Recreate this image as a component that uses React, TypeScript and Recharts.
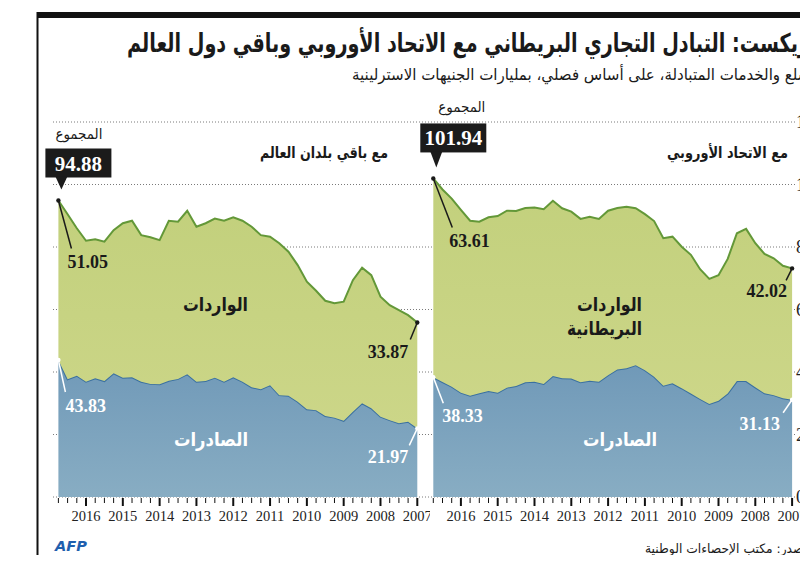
import React from "react";
import { AreaChart, Area, XAxis, YAxis, CartesianGrid, ReferenceDot } from "recharts";

// Quarters, from the latest (left edge) to the earliest (right edge)
const quarters = [
  "2016 Q4", "2016 Q3", "2016 Q2", "2016 Q1",
  "2015 Q4", "2015 Q3", "2015 Q2", "2015 Q1",
  "2014 Q4", "2014 Q3", "2014 Q2", "2014 Q1",
  "2013 Q4", "2013 Q3", "2013 Q2", "2013 Q1",
  "2012 Q4", "2012 Q3", "2012 Q2", "2012 Q1",
  "2011 Q4", "2011 Q3", "2011 Q2", "2011 Q1",
  "2010 Q4", "2010 Q3", "2010 Q2", "2010 Q1",
  "2009 Q4", "2009 Q3", "2009 Q2", "2009 Q1",
  "2008 Q4", "2008 Q3", "2008 Q2", "2008 Q1",
  "2007 Q4", "2007 Q3", "2007 Q2", "2007 Q1",
];

// Rest of the world (left panel), billions of pounds
const worldExports = [
  43.83, 37.7, 38.8, 36.9, 38.0, 37.1, 39.6, 38.2, 38.3, 36.9,
  36.2, 36.1, 37.2, 37.8, 39.3, 36.9, 37.1, 38.2, 36.9, 38.3,
  36.9, 35.1, 34.5, 35.8, 32.6, 32.4, 30.5, 28.1, 27.8, 25.9,
  25.4, 24.4, 27.3, 30.0, 28.4, 25.7, 24.6, 23.6, 24.1, 21.97,
];
const worldImports = [
  51.05, 52.8, 47.2, 45.1, 44.5, 44.6, 45.8, 49.4, 50.1, 46.9,
  46.9, 46.1, 51.2, 50.3, 52.3, 49.6, 50.5, 50.9, 51.5, 51.2,
  51.5, 51.4, 49.3, 47.5, 48.6, 46.1, 43.7, 40.8, 38.2, 36.9,
  36.6, 38.1, 42.1, 43.4, 42.6, 38.4, 36.8, 36.2, 34.1, 33.87,
];

// European Union (right panel), billions of pounds
const euExports = [
  38.33, 36.8, 35.3, 33.4, 32.4, 33.2, 33.9, 33.4, 35.0, 35.5,
  36.7, 36.9, 36.2, 38.7, 38.0, 37.9, 36.7, 37.2, 36.9, 39.0,
  40.8, 41.2, 42.2, 40.6, 38.5, 35.6, 36.4, 34.8, 33.1, 31.4,
  29.8, 30.8, 33.1, 37.1, 37.1, 35.1, 33.2, 32.6, 31.6, 31.13,
];
const euImports = [
  63.61, 61.6, 60.2, 58.5, 56.0, 54.9, 55.6, 56.5, 56.6, 56.0,
  55.8, 55.7, 55.9, 56.1, 54.4, 53.4, 52.3, 52.5, 52.1, 52.6,
  51.7, 51.7, 50.2, 49.9, 49.8, 47.2, 46.9, 45.3, 44.4, 41.5,
  40.0, 40.2, 43.1, 47.3, 48.7, 46.1, 44.6, 43.8, 42.4, 42.02,
];

const yTicks = [0, 20, 40, 60, 80, 100, 120];

const FONT_AR = "'DejaVu Sans', sans-serif";
const FONT_NUM = "'Liberation Serif', 'Times New Roman', serif";
const INK = "#1a1a1a";

const XTick = (p: any) => {
  const { x, y, payload } = p;
  const label: string = String(payload.value);
  const major = label.endsWith("Q1");
  return (
    <g>
      <line x1={x} y1={y + 1} x2={x} y2={y + (major ? 9 : 6)} stroke="#111" strokeWidth={major ? 2 : 1} />
      {major && (
        <text x={x} y={y + 24} textAnchor="middle" fontFamily={FONT_NUM} fontSize={14.5} fill="#222">
          {label.slice(0, 4)}
        </text>
      )}
    </g>
  );
};

const YTick = (p: any) => {
  const { x, y, payload } = p;
  return (
    <text x={x - 1} y={y + 6} textAnchor="start" fontFamily={FONT_NUM} fontSize={18} fill="#222">
      {payload.value}
    </text>
  );
};

type Off = { lx: number; ly: number; tx: number; ty: number };
type Ann = {
  boxDy: number;
  sumDx: number;
  sumDy: number;
  startImp: Off;
  endTotal: Off;
  startExp: Off;
  endExp: Off;
};

const worldAnn: Ann = {
  boxDy: -52,
  sumDx: 44,
  sumDy: -62,
  startImp: { lx: 13, ly: 48, tx: 9, ty: 67 },
  endTotal: { lx: -7, ly: 17, tx: -9, ty: 35 },
  startExp: { lx: 7, ly: 32, tx: 7, ty: 52 },
  endExp: { lx: -8, ly: 17, tx: -9, ty: 35 },
};
const euAnn: Ann = {
  boxDy: -55,
  sumDx: 52,
  sumDy: -66,
  startImp: { lx: 19, ly: 49, tx: 16, ty: 69 },
  endTotal: { lx: -6, ly: 12, tx: -5, ty: 29 },
  startExp: { lx: 10, ly: 26, tx: 9, ty: 45 },
  endExp: { lx: -9, ly: 13, tx: -12, ty: 30 },
};

const leader = (color: string, text: string, o: Off, anchor: "start" | "end") => (p: any) => {
  const { cx, cy } = p;
  return (
    <g>
      <line x1={cx} y1={cy} x2={cx + o.lx} y2={cy + o.ly} stroke={color} strokeWidth={1.5} />
      <circle cx={cx} cy={cy} r={2.2} fill={color} />
      <text x={cx + o.tx} y={cy + o.ty} textAnchor={anchor} fontFamily={FONT_NUM} fontWeight="bold" fontSize={18} fill={color}>
        {text}
      </text>
    </g>
  );
};

const totalCallout = (total: string, imp: string, a: Ann) => (p: any) => {
  const { cx, cy } = p;
  const bx = cx - 13;
  const by = cy + a.boxDy;
  const bh = 29;
  const tip = cy - 11;
  const tc = cx + 3;
  return (
    <g>
      <text x={cx + a.sumDx} y={cy + a.sumDy} textAnchor="end" fontFamily={FONT_AR} fontSize={14} fill={INK} textLength={47} lengthAdjust="spacingAndGlyphs">
        المجموع
      </text>
      <rect x={bx} y={by} width={66} height={bh} fill="#1b1b1b" />
      <polygon points={`${tc - 6},${by + bh - 1} ${tc + 6},${by + bh - 1} ${tc},${tip}`} fill="#1b1b1b" />
      <text x={bx + 33} y={by + 22} textAnchor="middle" fontFamily={FONT_NUM} fontWeight="bold" fontSize={21} fill="#fff">
        {total}
      </text>
      {leader(INK, imp, a.startImp, "start")(p)}
    </g>
  );
};

type PanelProps = {
  id: string;
  exportsArr: number[];
  importsArr: number[];
  ann: Ann;
  left: number;
  margin: { top: number; right: number; bottom: number; left: number };
  padding: { left: number; right: number };
  showY: boolean;
};

function Panel({ id, exportsArr, importsArr, ann, left, margin, padding, showY }: PanelProps) {
  const data = quarters.map((q, i) => ({ q, exports: exportsArr[i], imports: importsArr[i] }));
  const n = quarters.length;
  const t0 = exportsArr[0] + importsArr[0];
  const tN = exportsArr[n - 1] + importsArr[n - 1];
  return (
    <div style={{ position: "absolute", left, top: 100 }}>
      <AreaChart width={430} height={430} data={data} margin={margin}>
        <defs>
          <linearGradient id={`exp-${id}`} x1="0" y1="0" x2="0" y2="1">
            <stop offset="0%" stopColor="#7099b8" />
            <stop offset="100%" stopColor="#88adc3" />
          </linearGradient>
          <linearGradient id={`imp-${id}`} x1="0" y1="0" x2="0" y2="1">
            <stop offset="0%" stopColor="#c2d07c" />
            <stop offset="100%" stopColor="#ccd688" />
          </linearGradient>
        </defs>
        <CartesianGrid vertical={false} stroke="#7a7a7a" strokeDasharray="1 2" />
        <XAxis
          dataKey="q"
          scale="point"
          padding={padding}
          interval={0}
          axisLine={false}
          tickLine={false}
          tickSize={0}
          tickMargin={0}
          height={30}
          tick={XTick}
        />
        <YAxis
          domain={[0, 120]}
          ticks={yTicks}
          orientation="right"
          hide={!showY}
          width={33}
          axisLine={false}
          tickLine={false}
          tickSize={0}
          tickMargin={0}
          tick={YTick}
        />
        <Area
          type="linear"
          dataKey="exports"
          stackId="s"
          stroke="#3a70a0"
          strokeWidth={2}
          fill={`url(#exp-${id})`}
          fillOpacity={1}
          isAnimationActive={false}
        />
        <Area
          type="linear"
          dataKey="imports"
          stackId="s"
          stroke="#639838"
          strokeWidth={2}
          fill={`url(#imp-${id})`}
          fillOpacity={1}
          isAnimationActive={false}
        />
        <ReferenceDot
          x={quarters[0]}
          y={t0}
          r={2}
          ifOverflow="visible"
          shape={totalCallout(t0.toFixed(2), importsArr[0].toFixed(2), ann)}
        />
        <ReferenceDot
          x={quarters[n - 1]}
          y={tN}
          r={2}
          ifOverflow="visible"
          shape={leader(INK, importsArr[n - 1].toFixed(2), ann.endTotal, "end")}
        />
        <ReferenceDot
          x={quarters[0]}
          y={exportsArr[0]}
          r={2}
          ifOverflow="visible"
          shape={leader("#ffffff", exportsArr[0].toFixed(2), ann.startExp, "start")}
        />
        <ReferenceDot
          x={quarters[n - 1]}
          y={exportsArr[n - 1]}
          r={2}
          ifOverflow="visible"
          shape={leader("#ffffff", exportsArr[n - 1].toFixed(2), ann.endExp, "end")}
        />
      </AreaChart>
    </div>
  );
}

export default function App() {
  return (
    <div
      style={{
        position: "relative",
        width: 808,
        height: 563,
        margin: -8,
        overflow: "hidden",
        background: "#fff",
      }}
    >
      <Panel
        id="world"
        exportsArr={worldExports}
        importsArr={worldImports}
        ann={worldAnn}
        left={0}
        margin={{ top: 22, right: 5, bottom: 3, left: 53 }}
        padding={{ left: 5.4, right: 7.7 }}
        showY={false}
      />
      <Panel
        id="eu"
        exportsArr={euExports}
        importsArr={euImports}
        ann={euAnn}
        left={400}
        margin={{ top: 22, right: 0, bottom: 3, left: 25 }}
        padding={{ left: 8.3, right: 4.9 }}
        showY={true}
      />
      <svg
        width={808}
        height={563}
        style={{ position: "absolute", left: 0, top: 0, pointerEvents: "none" }}
      >
        <rect x={37} y={12} width={771} height={6} fill="#111" />
        <rect x={36.5} y={12} width={2} height={551} fill="#111" />
        <text x={817} y={52} textAnchor="end" fontFamily={FONT_AR} fontWeight="bold" fontSize={26} fill={INK} textLength={690} lengthAdjust="spacingAndGlyphs">
          بريكست: التبادل التجاري البريطاني مع الاتحاد الأوروبي وباقي دول العالم
        </text>
        <text x={820} y={80} textAnchor="end" fontFamily={FONT_AR} fontSize={16} fill={INK} textLength={468} lengthAdjust="spacingAndGlyphs">
          السلع والخدمات المتبادلة، على أساس فصلي، بمليارات الجنيهات الاسترلينية
        </text>
        <text x={388} y={158} textAnchor="end" fontFamily={FONT_AR} fontWeight="bold" fontSize={16} fill={INK} textLength={128} lengthAdjust="spacingAndGlyphs">
          مع باقي بلدان العالم
        </text>
        <text x={788} y={158} textAnchor="end" fontFamily={FONT_AR} fontWeight="bold" fontSize={16} fill={INK} textLength={121} lengthAdjust="spacingAndGlyphs">
          مع الاتحاد الأوروبي
        </text>
        <text x={248} y={311} textAnchor="end" fontFamily={FONT_AR} fontWeight="bold" fontSize={19} fill={INK} textLength={65} lengthAdjust="spacingAndGlyphs">
          الواردات
        </text>
        <text x={248} y={446} textAnchor="end" fontFamily={FONT_AR} fontWeight="bold" fontSize={19} fill="#fff" textLength={74} lengthAdjust="spacingAndGlyphs">
          الصادرات
        </text>
        <text x={642} y={311} textAnchor="end" fontFamily={FONT_AR} fontWeight="bold" fontSize={19} fill={INK} textLength={65} lengthAdjust="spacingAndGlyphs">
          الواردات
        </text>
        <text x={642} y={335} textAnchor="end" fontFamily={FONT_AR} fontWeight="bold" fontSize={19} fill={INK} textLength={75} lengthAdjust="spacingAndGlyphs">
          البريطانية
        </text>
        <text x={657} y={446} textAnchor="end" fontFamily={FONT_AR} fontWeight="bold" fontSize={19} fill="#fff" textLength={74} lengthAdjust="spacingAndGlyphs">
          الصادرات
        </text>
        <text x={55} y={551} fontFamily="'DejaVu Sans', sans-serif" fontWeight="bold" fontStyle="italic" fontSize={14} fill="#1f5fae" textLength={32} lengthAdjust="spacingAndGlyphs">
          AFP
        </text>
        <text x={818} y={553} textAnchor="end" fontFamily={FONT_AR} fontSize={13} fill={INK} textLength={173} lengthAdjust="spacingAndGlyphs">
          المصدر: مكتب الإحصاءات الوطنية
        </text>
      </svg>
    </div>
  );
}
